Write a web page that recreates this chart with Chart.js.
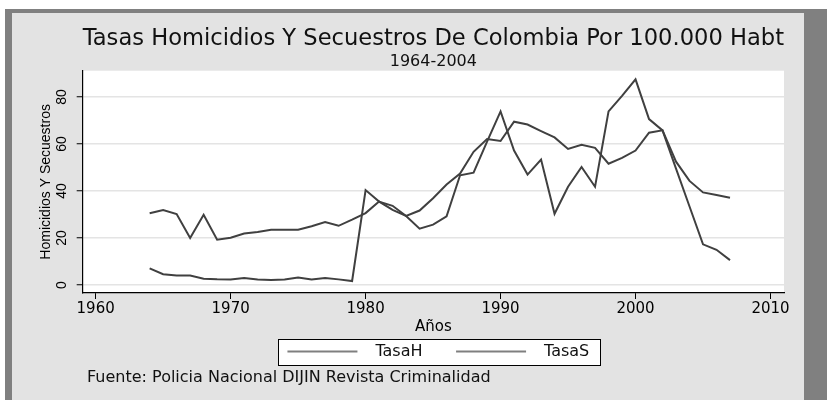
<!DOCTYPE html>
<html>
<head>
<meta charset="utf-8">
<script src="https://cdn.jsdelivr.net/npm/chart.js@4"></script>
<style>
  html, body { margin: 0; padding: 0; background: #fff; }
  #wrap { width: 827px; height: 400px; }
</style>
</head>
<body>
<div id="wrap"><canvas id="chart"></canvas></div>
<script>
const years = [1964, 1965, 1966, 1967, 1968, 1969, 1970, 1971, 1972, 1973, 1974,
  1975, 1976, 1977, 1978, 1979, 1980, 1981, 1982, 1983, 1984, 1985, 1986, 1987,
  1988, 1989, 1990, 1991, 1992, 1993, 1994, 1995, 1996, 1997, 1998, 1999, 2000,
  2001, 2002, 2003, 2004, 2005, 2006, 2007];
const tasaH = [30.5, 31.9, 30.2, 20.0, 29.9, 19.3, 20.1, 21.9, 22.6, 23.5, 23.5,
  23.5, 25.0, 26.8, 25.2, 27.8, 30.6, 35.5, 32.0, 29.4, 31.7, 36.9, 42.8, 47.4,
  56.7, 62.1, 61.3, 69.5, 68.3, 65.5, 62.8, 57.9, 59.7, 58.4, 51.6, 54.1, 57.2,
  64.8, 65.8, 52.5, 44.3, 39.4, 38.3, 37.1];
const tasaS = [7.1, 4.6, 4.1, 4.0, 2.7, 2.4, 2.3, 3.0, 2.3, 2.1, 2.3,
  3.2, 2.3, 3.0, 2.4, 1.7, 40.4, 35.5, 33.7, 29.4, 24.0, 25.7, 29.2, 46.7,
  47.8, 61.0, 73.9, 57.2, 47.0, 53.4, 30.3, 41.8, 50.2, 41.8, 73.9, 80.5, 87.5,
  70.6, 65.8, 49.5, 33.4, 17.3, 15.0, 10.6];
const xTicks = [1960, 1970, 1980, 1990, 2000, 2010];
const yTicks = [0, 20, 40, 60, 80];

const titulo = 'Tasas Homicidios Y Secuestros De Colombia Por 100.000 Habt';
const subtitulo = '1964-2004';
const fuente = 'Fuente: Policia Nacional DIJIN Revista Criminalidad';

const lineColor = '#404040';
Chart.defaults.font.family = 'DejaVu Sans';
Chart.defaults.color = '#111';

// legend sample: a little room, a 70px line, then room before the label text
const legendLine = document.createElement('canvas');
legendLine.width = 90;
legendLine.height = 4;
const lctx = legendLine.getContext('2d');
lctx.strokeStyle = '#555';
lctx.lineWidth = 1.5;
lctx.beginPath();
lctx.moveTo(10, 2);
lctx.lineTo(80, 2);
lctx.stroke();

const frame = {
  id: 'frame',
  beforeDraw(chart) {
    const { ctx, width, height, chartArea: a } = chart;
    ctx.save();
    ctx.fillStyle = '#fff';
    ctx.fillRect(0, 0, width, height);
    ctx.fillStyle = '#808080';
    ctx.fillRect(5, 9, width - 5, height - 9);
    ctx.fillStyle = '#e3e3e3';
    ctx.fillRect(12, 13, 792, height - 13);
    ctx.fillStyle = '#fff';
    ctx.fillRect(a.left, a.top, a.right - a.left, a.bottom - a.top);

    // white box with a border round the legend
    const boxes = chart.legend.legendHitBoxes;
    if (boxes && boxes.length) {
      const first = boxes[0], last = boxes[boxes.length - 1];
      const x0 = Math.round(first.left + 10 - 9), x1 = Math.round(last.left + last.width + 11);
      const y0 = Math.round(first.top - 5), y1 = Math.round(first.top + first.height + 5);
      ctx.fillStyle = '#fff';
      ctx.fillRect(x0, y0, x1 - x0, y1 - y0);
      ctx.strokeStyle = '#000';
      ctx.lineWidth = 1;
      ctx.strokeRect(x0 + 0.5, y0 + 0.5, x1 - x0, y1 - y0);
    }
    ctx.restore();
  },
  afterDraw(chart) {
    const ctx = chart.ctx;
    ctx.save();
    ctx.font = '16px "DejaVu Sans"';
    ctx.fillStyle = '#111';
    ctx.textBaseline = 'middle';
    ctx.fillText(fuente, 87, 378);
    ctx.restore();
  }
};

new Chart(document.getElementById('chart'), {
  type: 'line',
  data: {
    datasets: [
      {
        label: 'TasaH',
        data: years.map((y, i) => ({ x: y, y: tasaH[i] })),
        borderColor: lineColor,
        backgroundColor: lineColor
      },
      {
        label: 'TasaS',
        data: years.map((y, i) => ({ x: y, y: tasaS[i] })),
        borderColor: lineColor,
        backgroundColor: lineColor
      }
    ]
  },
  plugins: [frame],
  options: {
    responsive: true,
    maintainAspectRatio: false,
    animation: false,
    layout: { padding: { top: 27.5, left: 39.5, right: 43, bottom: 30.5 } },
    elements: {
      point: { radius: 0 },
      line: { borderWidth: 2, tension: 0 }
    },
    scales: {
      x: {
        type: 'linear',
        min: 1959.04,
        max: 2011,
        afterBuildTicks: s => { s.ticks = xTicks.map(v => ({ value: v })); },
        grid: { drawOnChartArea: false, tickLength: 6, tickColor: '#000', tickWidth: 1 },
        border: { color: '#000', width: 1.2 },
        ticks: {
          font: { size: 15, lineHeight: 1 },
          padding: 3,
          color: '#000',
          maxRotation: 0,
          callback: v => String(v)
        },
        title: {
          display: true,
          text: 'Años',
          font: { size: 15, lineHeight: 1 },
          // let the legend start under the tick labels, beside the title
          padding: { top: 0, bottom: -15 },
          color: '#000'
        }
      },
      y: {
        min: -3.4,
        max: 91.2,
        afterBuildTicks: s => { s.ticks = yTicks.map(v => ({ value: v })); },
        afterFit: s => { s.width = 43.2; },
        grid: { color: '#e4e4e4', lineWidth: 1.5, tickLength: 6, tickColor: '#000', tickWidth: 1 },
        border: { color: '#000', width: 1.2 },
        ticks: {
          font: { family: 'Liberation Sans', size: 14, lineHeight: 1 },
          padding: 6.4,
          color: '#000',
          minRotation: 90,
          maxRotation: 90,
          crossAlign: 'center'
        },
        title: {
          display: true,
          text: 'Homicidios Y Secuestros',
          font: { family: 'Liberation Sans', size: 14, lineHeight: 1 },
          padding: 0,
          color: '#000'
        }
      }
    },
    plugins: {
      title: {
        display: true,
        fullSize: false,
        text: titulo,
        font: { size: 23, weight: 'normal', lineHeight: 1 },
        padding: 0,
        color: '#111'
      },
      subtitle: {
        display: true,
        fullSize: false,
        text: subtitulo,
        font: { size: 16, lineHeight: 1 },
        padding: { top: 3, bottom: 1.2 },
        color: '#111'
      },
      legend: {
        position: 'bottom',
        fullSize: false,
        labels: {
          usePointStyle: true,
          pointStyle: legendLine,
          pointStyleWidth: 90,
          font: { size: 16, lineHeight: 1 },
          padding: 23.5,
          color: '#111'
        }
      },
      tooltip: { enabled: false }
    }
  }
});
</script>
</body>
</html>
